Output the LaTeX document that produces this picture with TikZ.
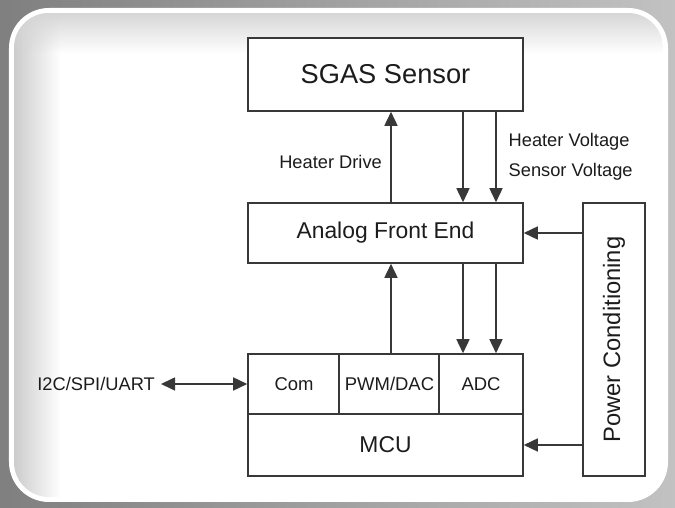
\documentclass[tikz,border=0pt]{standalone}
\usepackage{fontspec}
\setmainfont{Liberation Sans}
\usepackage{tikz}
\usetikzlibrary{calc, arrows.meta, fadings}
\definecolor{trait}{HTML}{383838}
\definecolor{texte}{HTML}{1C1C1C}
\tikzstyle{bloc} = [rectangle, draw=trait, fill=white, line width=0.9pt, text=texte, minimum width=5.5cm, text centered]
\tikzstyle{fleche} = [draw=trait, line width=0.9pt]
\tikzstyle{legende} = [text=texte, font=\fontsize{10.4}{17}\selectfont]

\begin{document}
\begin{tikzpicture}[>={Triangle[length=0.28cm, width=0.26cm]}]

        % cadre
        \shade[left color=black!50, right color=black!24] (0,0) rectangle (13.5,10.16);
        \fill[white, rounded corners=0.8cm] (0.18,0.12) rectangle (13.36,10.0);
        \begin{scope}
            \clip[rounded corners=0.7cm] (0.28,0.22) rectangle (13.26,9.9);
            \fill[black!20, path fading=east] (0.28,0.22) rectangle (1.2,9.9);
            \fill[black!16, path fading=south] (0.28,9.1) rectangle (13.26,9.9);
        \end{scope}

        \node (sgas) [bloc, minimum height=1.46cm, font=\fontsize{15.5}{18}\selectfont] at (7.71,8.67) {SGAS Sensor};
        \node (afe)  [bloc, minimum height=1.2cm, font=\fontsize{13}{15}\selectfont] at (7.71,5.50) {Analog Front End};

        \node (com) [bloc, minimum width=1.84cm, minimum height=1.2cm, font=\fontsize{10.5}{12}\selectfont] at (5.88,2.48) {Com};
        \node (pwm) [bloc, minimum width=1.98cm, minimum height=1.2cm, font=\fontsize{10.5}{12}\selectfont] at (7.79,2.48) {PWM/DAC};
        \node (adc) [bloc, minimum width=1.68cm, minimum height=1.2cm, font=\fontsize{10.5}{12}\selectfont] at (9.62,2.48) {ADC};
        \node (mcu) [bloc, minimum height=1.24cm, font=\fontsize{13}{15}\selectfont] at (7.71,1.26) {MCU};

        \node (power) [bloc, rotate=90, minimum width=5.46cm, minimum height=1.24cm, font=\fontsize{13.5}{15}\selectfont] at (12.28,3.37) {Power Conditioning};

        \node (bus) [legende, anchor=east] at (3.22,2.48) {I2C/SPI/UART};

        \draw [fleche, ->] ($(afe.north) + (0.11,0)$) -- node [legende, left, xshift=-0.05cm, yshift=-0.1cm] {Heater Drive} ($(sgas.south) + (0.11,0)$);
        \draw [fleche, ->] ($(sgas.south) + (1.55,0)$) -- ($(afe.north) + (1.55,0)$);
        \draw [fleche, ->] ($(sgas.south) + (2.21,0)$) -- node [legende, right, align=left, xshift=0.12cm] {Heater Voltage\\Sensor Voltage} ($(afe.north) + (2.21,0)$);

        \draw [fleche, ->] ($(pwm.north) + (0.03,0)$) -- ($(afe.south) + (0.11,0)$);
        \draw [fleche, ->] ($(afe.south) + (1.55,0)$) -- ($(adc.north) + (-0.36,0)$);
        \draw [fleche, ->] ($(afe.south) + (2.21,0)$) -- ($(adc.north) + (0.30,0)$);

        \draw [fleche, ->] (power.north |- afe.east) -- (afe.east);
        \draw [fleche, ->] (power.north |- mcu.east) -- (mcu.east);

        \draw [fleche, <->] (bus) -- (com);

    \end{tikzpicture}
\end{document}
